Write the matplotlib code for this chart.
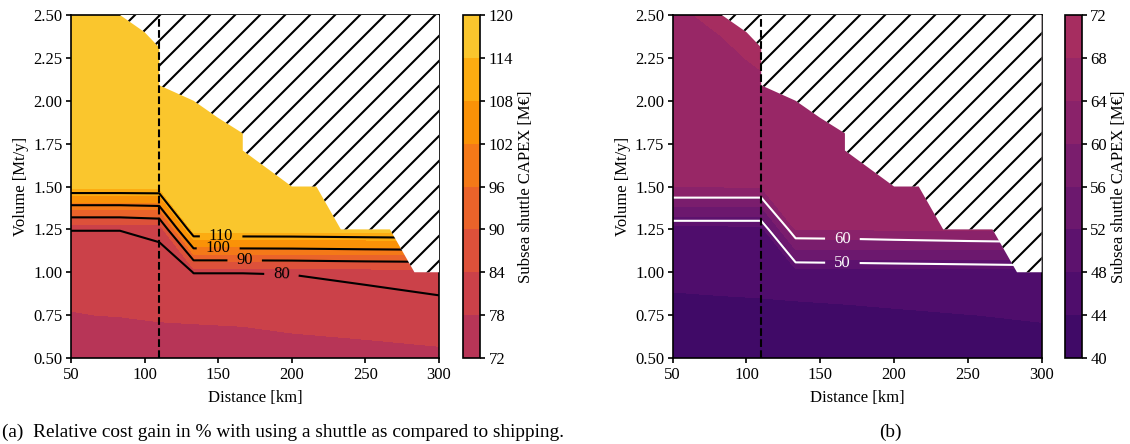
import numpy as np
import matplotlib
matplotlib.use("Agg")
import matplotlib.pyplot as plt
from matplotlib.colors import Normalize

DPI = 150

plt.rcParams['font.family'] = ['Liberation Serif', 'DejaVu Serif']
plt.rcParams['font.size'] = 8
plt.rcParams['xtick.major.size'] = 2.5
plt.rcParams['ytick.major.size'] = 2.5
plt.rcParams['xtick.major.pad'] = 2.0
plt.rcParams['ytick.major.pad'] = 1.5
plt.rcParams['hatch.linewidth'] = 1.0

# grid of the study: distance to shore [km] x yearly volume [Mt/y]
distance_km = [50, 83.3, 110, 133.3, 166.7, 200, 250, 300]
volume_mt = [0.5, 0.75, 1.0, 1.25, 1.5, 1.75, 2.0, 2.25, 2.5]

# subsea shuttle CAPEX [MEUR], case (a); one row per volume
capex_a = [
    [75.0, 75.5, 75.8, 76.0, 76.3, 76.6, 77.0, 77.4],
    [77.9, 78.1, 78.4, 78.5, 78.6, 79.0, 79.3, 79.6],
    [79.0, 79.0, 79.2, 81.1, 81.1, 81.2, 81.3, 81.5],
    [79.7, 79.7, 79.8, 116.5, 116.6, 116.7, 116.8, 117.0],
    [115.4, 115.4, 115.4, 117.0, 117.1, 117.2, 117.3, 117.5],
    [116.5, 116.6, 116.7, 117.5, 117.5, 117.6, 117.7, 117.8],
    [117.0, 117.1, 117.2, 117.8, 117.9, 118.0, 118.1, 118.2],
    [117.5, 117.6, 117.7, 118.2, 118.3, 118.4, 118.5, 118.6],
    [118.0, 118.1, 118.2, 118.6, 118.7, 118.8, 118.9, 119.0],
]

# relative cost gain [%], case (a)
gain_a = [
    [70.0, 70.0, 70.0, 70.0, 70.0, 70.0, 72.0, 74.0],
    [74.0, 74.0, 74.0, 76.0, 76.0, 75.0, 77.6, 78.8],
    [77.0, 77.0, 76.5, 80.1, 80.1, 80.3, 81.0, 81.4],
    [80.1, 80.1, 81.5, 115.8, 115.9, 116.0, 116.5, 117.0],
    [115.4, 115.4, 115.4, 117.0, 117.0, 117.0, 117.5, 118.0],
    [117.0, 117.0, 117.0, 118.0, 118.0, 118.0, 118.5, 119.0],
    [118.0, 118.0, 118.0, 119.0, 119.0, 119.0, 119.5, 120.0],
    [119.0, 119.0, 119.0, 120.0, 120.0, 120.0, 120.5, 121.0],
    [120.0, 120.0, 120.0, 121.0, 121.0, 121.0, 121.5, 122.0],
]

# subsea shuttle CAPEX [MEUR], case (b)
capex_b = [
    [42.0, 42.2, 42.4, 41.5, 42.0, 42.2, 42.4, 42.5],
    [43.3, 43.5, 43.6, 42.7, 43.1, 43.5, 43.95, 44.3],
    [44.6, 44.6, 44.6, 46.6, 46.6, 46.6, 46.6, 46.6],
    [46.6, 46.6, 46.7, 64.2, 64.2, 64.3, 64.3, 64.4],
    [64.2, 64.2, 64.3, 64.8, 64.9, 65.0, 65.1, 65.2],
    [65.0, 65.2, 65.5, 65.6, 65.7, 65.8, 65.9, 66.0],
    [65.8, 66.2, 67.3, 66.5, 66.6, 66.7, 66.8, 66.9],
    [66.8, 67.6, 68.3, 67.3, 67.4, 67.5, 67.6, 67.7],
    [67.7, 68.4, 69.5, 68.0, 68.1, 68.2, 68.3, 68.4],
]

# relative cost gain [%], case (b)
gain_b = [
    [38.0, 38.0, 38.0, 40.0, 40.0, 40.0, 40.0, 40.0],
    [41.0, 41.0, 41.0, 43.0, 43.0, 43.0, 43.0, 43.0],
    [44.0, 44.0, 44.0, 45.9, 46.1, 46.3, 46.6, 47.0],
    [46.3, 46.3, 46.3, 63.7, 63.9, 64.4, 65.0, 65.4],
    [64.8, 64.8, 64.8, 66.0, 66.0, 66.0, 66.5, 67.0],
    [66.0, 66.0, 66.0, 67.0, 67.0, 67.0, 67.5, 68.0],
    [67.0, 67.0, 67.0, 68.0, 68.0, 68.0, 68.5, 69.0],
    [68.0, 68.0, 68.0, 69.0, 69.0, 69.0, 69.5, 70.0],
    [69.0, 69.0, 69.0, 70.0, 70.0, 70.0, 70.5, 71.0],
]

# upper volume limit of feasible designs for each distance
feasible_distance = [50, 83.3, 100, 110, 110, 133.3, 150, 166.7, 166.7, 200, 216.7, 233.3, 266.7, 283.3, 300]
feasible_volume_max = [2.5, 2.5, 2.4, 2.31, 2.09, 2.0, 1.9, 1.81, 1.71, 1.5, 1.5, 1.25, 1.25, 1.0, 1.0]

threshold_distance = 110

capex_levels_a = [72, 78, 84, 90, 96, 102, 108, 114, 120]
capex_levels_b = [40, 44, 48, 52, 56, 60, 64, 68, 72]
gain_levels_a = [80, 90, 100, 110]
gain_levels_b = [50, 60]

D, V = np.meshgrid(distance_km, volume_mt)
norm = Normalize(vmin=20, vmax=132)

fig = plt.figure(figsize=(1130 / DPI, 444 / DPI))
ax_a = fig.add_axes([0.0628, 0.1937, 0.3257, 0.7725])
cax_a = fig.add_axes([0.4095, 0.1937, 0.0155, 0.7725])
ax_b = fig.add_axes([0.5953, 0.1937, 0.3265, 0.7725])
cax_b = fig.add_axes([0.9425, 0.1937, 0.0150, 0.7725])


def draw_panel(ax, cax, capex, capex_levels, gain, gain_levels, line_color, label_pos):
    cf = ax.contourf(D, V, np.array(capex), levels=capex_levels, cmap='inferno', norm=norm, zorder=1)
    cs = ax.contour(D, V, np.array(gain), levels=gain_levels, colors=line_color, linewidths=1.0, zorder=2)
    ax.clabel(cs, fmt='%d', fontsize=8, inline=True, inline_spacing=6, manual=label_pos)
    # infeasible designs: white with hatching
    ax.fill_between(feasible_distance, feasible_volume_max, 2.5, facecolor='white',
                    edgecolor='black', hatch='//', linewidth=0, zorder=3)
    ax.axvline(threshold_distance, color='black', ls='--', lw=1.0, zorder=4)
    ax.set_xlim(50, 300)
    ax.set_ylim(0.5, 2.5)
    ax.set_xticks([50, 100, 150, 200, 250, 300])
    ax.set_yticks(np.arange(0.5, 2.51, 0.25))
    ax.yaxis.set_major_formatter('{x:.2f}')
    ax.set_xlabel('Distance [km]', labelpad=3)
    ax.set_ylabel('Volume [Mt/y]', labelpad=2)
    cb = fig.colorbar(cf, cax=cax, ticks=capex_levels)
    cb.set_label('Subsea shuttle CAPEX [M€]', labelpad=2)


draw_panel(ax_a, cax_a, capex_a, capex_levels_a, gain_a, gain_levels_a, 'black',
           [(152, 1.21), (150, 1.14), (168, 1.07), (193, 0.99)])
draw_panel(ax_b, cax_b, capex_b, capex_levels_b, gain_b, gain_levels_b, 'white',
           [(165, 1.19), (165, 1.055)])

fig.text(0.25, 0.027, '(a)  Relative cost gain in % with using a shuttle as compared to shipping.',
         ha='center', va='center', fontsize=9.25)
fig.text(0.788, 0.027, '(b)', ha='center', va='center', fontsize=9.25)

fig.savefig('out.png', dpi=DPI)
